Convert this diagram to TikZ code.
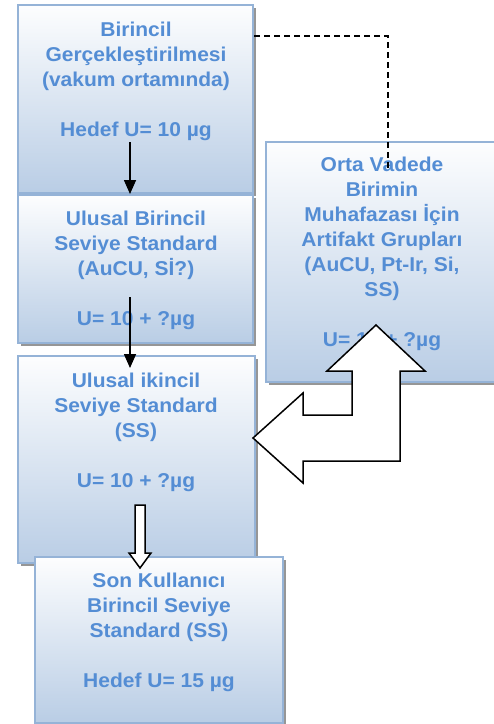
\documentclass[tikz,border=0pt]{standalone}
\usepackage{fontspec}
\setmainfont{Liberation Sans}[FakeStretch=1.05]
\usetikzlibrary{arrows.meta,shadows}
\definecolor{txtblue}{RGB}{84,141,212}
\definecolor{edgeblue}{RGB}{149,179,215}
\definecolor{fillblue}{RGB}{185,205,229}
\definecolor{shadowgray}{RGB}{150,150,150}
\tikzset{
  box/.style={draw=edgeblue, line width=2.5pt, top color=white!97!fillblue, bottom color=fillblue,
    inner sep=0pt, rectangle,
    general shadow={shadow xshift=3pt, shadow yshift=-3pt, fill=shadowgray}},
  boxtext/.style={anchor=north, inner sep=0pt, align=center, text=txtblue,
    font=\fontsize{20}{25}\selectfont\bfseries},
  solidarrow/.style={draw=black, line width=1.6pt, -{Triangle[width=12pt,length=14pt]}},
  dashline/.style={draw=black, line width=1.5pt, dash pattern=on 6pt off 4pt},
  hollow/.style={draw=black, fill=white, line width=1.5pt, line join=miter}
}
\begin{document}
\begin{tikzpicture}[x=1pt,y=-1pt]
\useasboundingbox (0,0) rectangle (494,724);
% boxes
\node[box, minimum width=235pt, minimum height=188pt] (b1) at (135.5,99) {};
\node[box, minimum width=235pt, minimum height=148pt] (b2) at (135.5,269) {};
\node[box, minimum width=237pt, minimum height=207pt] (b3) at (136.5,459.5) {};
\node[box, minimum width=248pt, minimum height=166pt] (b4) at (159,640) {};
\node[box, minimum width=231pt, minimum height=240pt] (br) at (381.5,262) {};
% texts
\node[boxtext] (t1) at (136,21.5) {Birincil\\Gerçekleştirilmesi\\(vakum ortamında)\\[25pt]Hedef U= 10 µg};
\node[boxtext] (t2) at (136,210.5) {Ulusal Birincil\\Seviye Standard\\(AuCU, Sİ?)\\[25pt]U= 10 + ?µg};
\node[boxtext] (t3) at (136,372.5) {Ulusal ikincil\\Seviye Standard\\(SS)\\[25pt]U= 10 + ?µg};
\node[boxtext] (t4) at (159,572.5) {Son Kullanıcı\\Birincil Seviye\\Standard (SS)\\[25pt]Hedef U= 15 µg};
\node[boxtext] (tr) at (382,156.5) {Orta Vadede\\Birimin\\Muhafazası İçin\\Artifakt Grupları\\(AuCU, Pt-Ir, Si,\\SS)\\[25pt]U= 10 + ?µg};
% dashed connector
\coordinate (dcorner) at (388,36);
\coordinate (dend) at (388,168);
\draw[dashline] (b1.east |- dcorner) -- (dcorner) -- (dend);
% solid arrows
\coordinate (a1s) at (130,142);
\coordinate (a1e) at (130,194);
\draw[solidarrow] (a1s) -- (a1e);
\coordinate (a2s) at (130,297);
\coordinate (a2e) at (130,368);
\draw[solidarrow] (a2s) -- (a2e);
% hollow down arrow
\draw[hollow] (135,505) -- (145,505) -- (145,553) -- (151,553) -- (140,568) -- (129,553) -- (135,553) -- cycle;
% big bent arrow
\draw[hollow] (253,438) -- (303,393) -- (303,415) -- (352,415) -- (352,371) -- (327,371)
  -- (376,325) -- (425,371) -- (400,371) -- (400,461) -- (303,461) -- (303,483) -- cycle;
\end{tikzpicture}
\end{document}
